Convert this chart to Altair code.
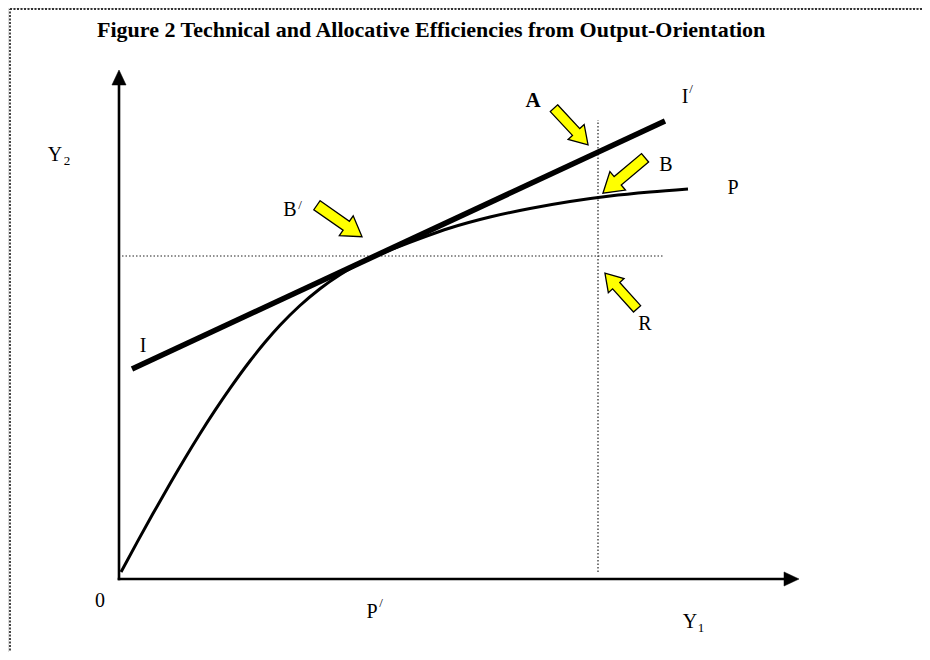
import altair as alt
import pandas as pd

# ---- data (diagram units: origin at axes corner) ----
curve_x = [2, 19, 34, 51, 66, 81, 96, 111, 131, 146, 161, 181, 201, 221, 236, 256,
           276, 301, 331, 371, 411, 451, 491, 531, 569]
curve_y = [7, 38.4, 65.4, 95.3, 120.8, 145.3, 168.6, 190.6, 218, 236.7, 253.7, 273.5,
           290.3, 304.3, 313, 323, 331, 340.5, 351, 362, 370.5, 377.5, 383, 387, 390]

iso_x = [13, 546]
iso_y = [210, 458]

axis_x1 = [0, 0]
axis_y1 = [0, 0]
axis_x2 = [0, 666]
axis_y2 = [494, 0]
tip_x = [0, 680]
tip_y = [509, 0]
tip_angle = [0, 90]

dot_x1 = [479, 3]
dot_y1 = [7, 323]
dot_x2 = [479, 544]
dot_y2 = [459, 323]

border_x1 = [-109, -109, 808]
border_y1 = [-75, 570, 570]
border_x2 = [-109, 808, 808]
border_y2 = [570, 570, 100]

arr_names = ["A", "B", "B'", "R"]
arr_x = [452, 505, 220.5, 502]
arr_y = [452.5, 403.5, 358, 288]
arr_angle = [47, 140, 35, 228]
arr_len = [50, 55, 55, 48]

lab_text = ["I", "B", "P", "B", "R", "I", "P", "Y", "Y", "0"]
lab_x = [24, 547, 614, 171, 526, 566, 253, -64, 571, -19]
lab_y = [233, 414, 391, 369, 255, 482, -33, 424, -43, -22]

bold_text = ["A"]
bold_x = [414]
bold_y = [478]

small_text = ["2", "1", "/", "/", "/"]
small_x = [-52, 582, 572, 181, 262]
small_y = [418, -49, 490, 374, -24]

title_text = "Figure 2 Technical and Allocative Efficiencies from Output-Orientation"
title_x = [-22]
title_y = [542]

SERIF = "Times New Roman, Liberation Serif, serif"

xs = alt.Scale(domain=[-111, 803], nice=False, zero=False)
ys = alt.Scale(domain=[-73, 571], nice=False, zero=False)


def X(f):
    return alt.X(f, type="quantitative", scale=xs, axis=None)


def Y(f):
    return alt.Y(f, type="quantitative", scale=ys, axis=None)


border = alt.Chart(pd.DataFrame({"x": border_x1, "y": border_y1, "x2": border_x2, "y2": border_y2})).mark_rule(
    color="#333", strokeWidth=1.8, strokeDash=[2, 1.5]
).encode(x=X("x"), y=Y("y"), x2="x2:Q", y2="y2:Q")

dotted = alt.Chart(pd.DataFrame({"x": dot_x1, "y": dot_y1, "x2": dot_x2, "y2": dot_y2})).mark_rule(
    color="#222", strokeWidth=1.2, strokeDash=[1.5, 2]
).encode(x=X("x"), y=Y("y"), x2="x2:Q", y2="y2:Q")

axes = alt.Chart(pd.DataFrame({"x": axis_x1, "y": axis_y1, "x2": axis_x2, "y2": axis_y2})).mark_rule(
    color="black", strokeWidth=2.6, strokeCap="square"
).encode(x=X("x"), y=Y("y"), x2="x2:Q", y2="y2:Q")

tips = alt.Chart(pd.DataFrame({"x": tip_x, "y": tip_y, "a": tip_angle})).mark_point(
    shape="M0,0 L0.47,1 L-0.47,1 Z", filled=True, fill="black", stroke="black",
    strokeWidth=0.5, opacity=1, size=900
).encode(x=X("x"), y=Y("y"), angle=alt.Angle("a:Q", scale=None))

curve = alt.Chart(pd.DataFrame({"x": curve_x, "y": curve_y, "o": list(range(len(curve_x)))})).mark_line(
    color="black", strokeWidth=3, interpolate="monotone"
).encode(x=X("x"), y=Y("y"), order="o:Q")

iso = alt.Chart(pd.DataFrame({"x": iso_x, "y": iso_y})).mark_line(
    color="black", strokeWidth=5.5, strokeCap="butt"
).encode(x=X("x"), y=Y("y"))

arrows = alt.Chart(pd.DataFrame({"n": arr_names, "x": arr_x, "y": arr_y, "a": arr_angle,
                                 "s": [v * v for v in arr_len]})).mark_point(
    shape="M-1,-0.2 L0.3,-0.2 L0.3,-0.44 L1,0 L0.3,0.44 L0.3,0.2 L-1,0.2 Z",
    filled=True, fill="#FFFF00", stroke="black", strokeWidth=1.3, opacity=1
).encode(x=X("x"), y=Y("y"), angle=alt.Angle("a:Q", scale=None), size=alt.Size("s:Q", scale=None))

labels = alt.Chart(pd.DataFrame({"t": lab_text, "x": lab_x, "y": lab_y})).mark_text(
    font=SERIF, fontSize=20, color="black", align="center", baseline="middle"
).encode(x=X("x"), y=Y("y"), text="t:N")

bold = alt.Chart(pd.DataFrame({"t": bold_text, "x": bold_x, "y": bold_y})).mark_text(
    font=SERIF, fontSize=21, fontWeight="bold", color="black", align="center", baseline="middle"
).encode(x=X("x"), y=Y("y"), text="t:N")

small = alt.Chart(pd.DataFrame({"t": small_text, "x": small_x, "y": small_y})).mark_text(
    font=SERIF, fontSize=13, color="black", align="center", baseline="middle"
).encode(x=X("x"), y=Y("y"), text="t:N")

title = alt.Chart(pd.DataFrame({"t": [title_text], "x": title_x, "y": title_y})).mark_text(
    font=SERIF, fontSize=22, fontWeight="bold", color="black", align="left", baseline="alphabetic"
).encode(x=X("x"), y=Y("y"), text="t:N")

chart = alt.layer(
    border, dotted, axes, tips, curve, iso, arrows, labels, bold, small, title
).properties(
    width=914, height=644, autosize=alt.AutoSizeParams(type="none"), padding=0
).configure_view(stroke=None).configure(background="white")

chart.save("out.html", embed_options={"renderer": "svg", "actions": False})
